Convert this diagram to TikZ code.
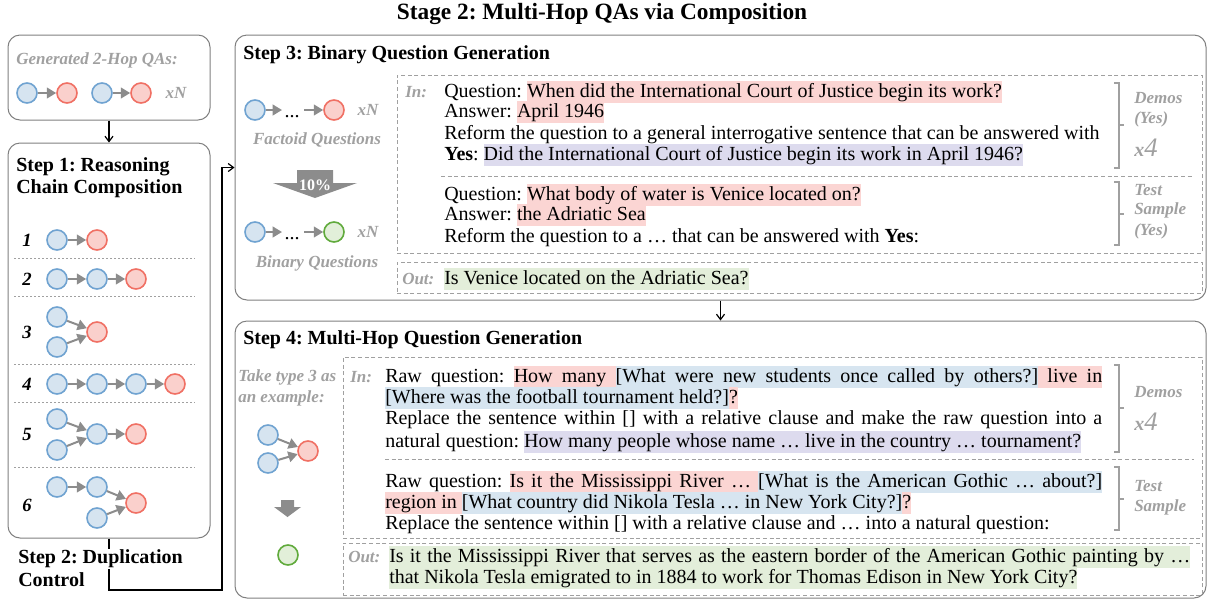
\documentclass[tikz,border=0pt]{standalone}
\usepackage{fontspec}
\setmainfont{Liberation Serif}
\usetikzlibrary{arrows.meta,fit}
\setlength{\fboxsep}{0pt}
\frenchspacing
\newlength\pxu \setlength\pxu{0.75pt}
\definecolor{hlred}{RGB}{251,213,211}
\definecolor{hlblu}{RGB}{215,229,240}
\definecolor{hlpur}{RGB}{221,219,238}
\definecolor{hlgrn}{RGB}{227,238,218}
\definecolor{cbf}{RGB}{214,228,240}
\definecolor{cbd}{RGB}{112,163,209}
\definecolor{crf}{RGB}{250,208,204}
\definecolor{crd}{RGB}{240,112,100}
\definecolor{cgf}{RGB}{226,239,217}
\definecolor{cgd}{RGB}{96,170,60}
\definecolor{labgray}{RGB}{160,160,160}
\definecolor{boxgray}{RGB}{128,128,128}
\definecolor{dashgray}{RGB}{160,160,160}
\definecolor{arrgray}{RGB}{140,140,140}
\newcommand\hstrut{\rule[-0.27em]{0pt}{1.07em}}
\newcommand\HLsp[1]{{\color{#1}\leaders\hrule height 0.8em depth 0.27em\hskip\fontdimen2\font plus\fontdimen3\font minus\fontdimen4\font}}
\makeatletter
\newcommand\HL[2]{\def\HL@c{#1}\HL@go#2 \@nil}
\def\HL@go#1 #2\@nil{\colorbox{\HL@c}{\hstrut#1}\ifx\relax#2\relax\else\HLsp{\HL@c}\HL@go#2\@nil\fi}
\makeatother
\newcommand\xfour{{\fontsize{15}{16}\selectfont\bfseries\itshape x}{\fontsize{20}{22}\selectfont\itshape 4}}
\begin{document}
\frenchspacing
\begin{tikzpicture}[x=0.75pt,y=-0.75pt,
  T/.style={anchor=west, inner sep=0pt, font=\fontsize{15}{18}\selectfont\frenchspacing},
  ST/.style={anchor=west, inner sep=0pt, font=\fontsize{15}{18}\selectfont\bfseries\frenchspacing},
  G/.style={inner sep=0pt, text=labgray, font=\fontsize{12.75}{15}\selectfont\bfseries\itshape},
  NUM/.style={inner sep=0pt, font=\fontsize{14}{16}\selectfont\bfseries\itshape},
  rbox/.style={draw=boxgray, line width=0.75pt, rounded corners=9pt, inner sep=0pt},
  dbox/.style={draw=dashgray, line width=0.75pt, dash pattern=on 3pt off 2pt, inner sep=0pt},
  dsep/.style={draw=dashgray, line width=0.75pt, dash pattern=on 3pt off 2pt},
  dots/.style={draw=dashgray, line width=0.75pt, dash pattern=on 1.5pt off 1.5pt},
  cb/.style={circle, draw=cbd, fill=cbf, line width=1.2pt, minimum size=15pt, inner sep=0pt},
  cr/.style={circle, draw=crd, fill=crf, line width=1.2pt, minimum size=15pt, inner sep=0pt},
  cg/.style={circle, draw=cgd, fill=cgf, line width=1.2pt, minimum size=15pt, inner sep=0pt},
  ga/.style={draw=arrgray, line width=1.5pt, -{Triangle[length=7pt,width=8pt]}},
  ba/.style={draw=black, line width=0.9pt, -{Straight Barb[length=4pt,width=6pt]}},
  brk/.style={draw=labgray, line width=0.9pt},
  X4/.style={inner sep=0pt, text=labgray, anchor=west}
]
\useasboundingbox (0,0) rectangle (1208,601);

% title
\node[font=\fontsize{17.5}{20}\selectfont\bfseries, inner sep=0pt] (title) at (602,14) {Stage 2: Multi-Hop QAs via Composition};

% ---------- top-left box ----------
\node[rbox, fit={(8,35) (210,120)}] (qa) {};
\node[G, anchor=west] (qal) at (16,60) {Generated 2-Hop QAs:};
\node[cb] (a1) at (27,93) {};
\node[cr] (a2) at (67,93) {};
\node[cb] (a3) at (102,93) {};
\node[cr] (a4) at (141,93) {};
\draw[ga] (a1) -- (a2);
\draw[ga] (a3) -- (a4);
\node[G] (axn) at (176,93) {xN};

% ---------- Step 1 ----------
\node[rbox, fit={(8,143) (210,538)}] (s1) {};
\draw[ba] (qa.south) -- (s1.north);
\node[ST] (s1t1) at (16,167) {Step 1: Reasoning};
\node[ST] (s1t2) at (16,189) {Chain Composition};

\node[NUM] (n1) at (27,240) {1};
\node[NUM] (n2) at (27,279) {2};
\node[NUM] (n3) at (27,332) {3};
\node[NUM] (n4) at (27,384) {4};
\node[NUM] (n5) at (27,434) {5};
\node[NUM] (n6) at (27,505) {6};

\draw[dots] (14,258) -- (195,258);
\draw[dots] (14,296) -- (195,296);
\draw[dots] (14,364) -- (195,364);
\draw[dots] (14,402) -- (195,402);
\draw[dots] (14,467) -- (195,467);

% row 1
\node[cb] (r1a) at (57,240) {};
\node[cr] (r1b) at (97,240) {};
\draw[ga] (r1a) -- (r1b);
% row 2
\node[cb] (r2a) at (57,279) {};
\node[cb] (r2b) at (97,279) {};
\node[cr] (r2c) at (136,279) {};
\draw[ga] (r2a) -- (r2b);
\draw[ga] (r2b) -- (r2c);
% row 3
\node[cb] (r3a) at (57,317) {};
\node[cb] (r3b) at (57,347) {};
\node[cr] (r3c) at (97,332) {};
\draw[ga] (r3a) -- (r3c);
\draw[ga] (r3b) -- (r3c);
% row 4
\node[cb] (r4a) at (57,384) {};
\node[cb] (r4b) at (97,384) {};
\node[cb] (r4c) at (136,384) {};
\node[cr] (r4d) at (175,384) {};
\draw[ga] (r4a) -- (r4b);
\draw[ga] (r4b) -- (r4c);
\draw[ga] (r4c) -- (r4d);
% row 5
\node[cb] (r5a) at (57,419) {};
\node[cb] (r5b) at (57,450) {};
\node[cb] (r5c) at (97,434) {};
\node[cr] (r5d) at (136,434) {};
\draw[ga] (r5a) -- (r5c);
\draw[ga] (r5b) -- (r5c);
\draw[ga] (r5c) -- (r5d);
% row 6
\node[cb] (r6a) at (57,487) {};
\node[cb] (r6b) at (97,487) {};
\node[cb] (r6c) at (97,518) {};
\node[cr] (r6d) at (136,503) {};
\draw[ga] (r6a) -- (r6b);
\draw[ga] (r6b) -- (r6d);
\draw[ga] (r6c) -- (r6d);

% ---------- Step 3 ----------
\node[rbox, fit={(235,35) (1206,300)}] (s3) {};
\node[ST] (s3t) at (243,55) {Step 3: Binary Question Generation};

\node[cb] (f1) at (255,110) {};
\coordinate (fa1) at (282,110);
\node[T, anchor=base] (fd) at (292,117) {...};
\coordinate (fa2) at (304,110);
\node[cr] (f2) at (334,110) {};
\draw[ga] (f1) -- (fa1);
\draw[ga] (fa2) -- (f2);
\node[G] (fxn) at (368,110) {xN};
\node[G] (fq) at (317,140) {Factoid Questions};

\fill[arrgray] (297,170) -- (333,170) -- (333,183) -- (357,183) -- (315,198) -- (273,183) -- (297,183) -- cycle;
\node[font=\fontsize{12}{14}\selectfont\bfseries, text=white, inner sep=0pt] (pct) at (315,185) {10\%};

\node[cb] (g1) at (255,232) {};
\coordinate (gb1) at (282,232);
\node[T, anchor=base] (gd) at (292,239) {...};
\coordinate (gb2) at (304,232);
\node[cg] (g2) at (334,232) {};
\draw[ga] (g1) -- (gb1);
\draw[ga] (gb2) -- (g2);
\node[G] (gxn) at (368,232) {xN};
\node[G] (bq) at (317,263) {Binary Questions};

\node[dbox, fit={(397,75) (1202,253)}] (i3) {};
\node[dbox, fit={(397,262) (1202,293)}] (o3) {};
\node[G, anchor=west] (i3l) at (405,92) {In:};
\node[G, anchor=west] (o3l) at (402,279) {Out:};

\node[T] (t31) at (444,92) {Question: \HL{hlred}{When did the International Court of Justice begin its work?}};
\node[T] (t32) at (444,112) {Answer: \HL{hlred}{April 1946}};
\node[T] (t33) at (444,134) {\hstrut Reform the question to a general interrogative sentence that can be answered with};
\node[T] (t34) at (444,155) {\textbf{Yes}: \HL{hlpur}{Did the International Court of Justice begin its work in April 1946?}};
\draw[dsep] (441,176) -- (1193,176);
\node[T] (t35) at (444,195) {Question: \HL{hlred}{What body of water is Venice located on?}};
\node[T] (t36) at (444,215) {Answer: \HL{hlred}{the Adriatic Sea}};
\node[T] (t37) at (444,237) {\hstrut Reform the question to a … that can be answered with \textbf{Yes}:};
\node[T] (t3o) at (444,279) {\HL{hlgrn}{Is Venice located on the Adriatic Sea?}};

\draw[brk] (1114,83) -- (1119,83) -- (1119,168) -- (1114,168);
\draw[brk] (1119,125) -- (1124,125);
\draw[brk] (1114,182) -- (1119,182) -- (1119,245) -- (1114,245);
\draw[brk] (1119,214) -- (1124,214);
\node[G, anchor=west] (d3a) at (1134,98) {Demos};
\node[G, anchor=west] (d3b) at (1134,119) {(Yes)};
\node[X4] (d3c) at (1134,148) {\xfour};
\node[G, anchor=west] (e3a) at (1134,190) {Test};
\node[G, anchor=west] (e3b) at (1134,210) {Sample};
\node[G, anchor=west] (e3c) at (1134,231) {(Yes)};

% ---------- Step 4 ----------
\node[rbox, fit={(235,321) (1206,598)}] (s4) {};
\draw[ba] (s3.south) -- (s4.north);
\node[ST] (s4t) at (243,340) {Step 4: Multi-Hop Question Generation};
\node[G, anchor=west] (tk1) at (238,377) {Take type 3 as};
\node[G, anchor=west] (tk2) at (238,398) {an example:};
\node[cb] (h1) at (268,435) {};
\node[cb] (h2) at (268,463) {};
\node[cr] (h3) at (308,451) {};
\draw[ga] (h1) -- (h3);
\draw[ga] (h2) -- (h3);
\fill[arrgray] (281,500) -- (294,500) -- (294,507) -- (301,507) -- (287.5,517) -- (274,507) -- (281,507) -- cycle;
\node[cg] (h4) at (288,555) {};

\node[dbox, fit={(343,357) (1202,538)}] (i4) {};
\node[dbox, fit={(343,543) (1202,595)}] (o4) {};
\node[G, anchor=west] (i4l) at (350,377) {In:};
\node[G, anchor=west] (o4l) at (348,557) {Out:};

\node[T] (t41) at (385,377) {\makebox[717\pxu][s]{Raw question: \HL{hlred}{How many}\HLsp{hlred}\HL{hlblu}{[What were new students once called by others?]}\HLsp{hlred}\HL{hlred}{live in}}};
\node[T] (t42) at (385,398) {\HL{hlblu}{[Where was the football tournament held?]}\HL{hlred}{?}};
\node[T] (t43) at (385,419) {\makebox[717\pxu][s]{\hstrut Replace the sentence within [] with a relative clause and make the raw question into a}};
\node[T] (t44) at (385,442) {natural question: \HL{hlpur}{How many people whose name … live in the country … tournament?}};
\draw[dsep] (385,459) -- (1194,459);
\node[T] (t45) at (385,482) {\makebox[717\pxu][s]{Raw question: \HL{hlred}{Is it the Mississippi River …}\HLsp{hlred}\HL{hlblu}{[What is the American Gothic … about?]}}};
\node[T] (t46) at (385,503) {\HL{hlred}{region in}\HLsp{hlred}\HL{hlblu}{[What country did Nikola Tesla … in New York City?]}\HL{hlred}{?}};
\node[T] (t47) at (385,524) {\hstrut Replace the sentence within [] with a relative clause and … into a natural question:};
\node[T] (t4o1) at (389,557) {\makebox[801\pxu][s]{\HL{hlgrn}{Is it the Mississippi River that serves as the eastern border of the American Gothic painting by …}}};
\node[T] (t4o2) at (389,578) {\HL{hlgrn}{that Nikola Tesla emigrated to in 1884 to work for Thomas Edison in New York City?}};

\draw[brk] (1114,365) -- (1119,365) -- (1119,452) -- (1114,452);
\draw[brk] (1119,408) -- (1124,408);
\draw[brk] (1114,467) -- (1119,467) -- (1119,530) -- (1114,530);
\draw[brk] (1119,499) -- (1124,499);
\node[G, anchor=west] (d4a) at (1134,392) {Demos};
\node[X4] (d4c) at (1134,422) {\xfour};
\node[G, anchor=west] (e4a) at (1134,486) {Test};
\node[G, anchor=west] (e4b) at (1134,507) {Sample};

% ---------- Step 2 connector ----------
\coordinate (dc) at (222,590);
\draw[ba] (s1.south) -- (s1.south |- dc) -- (dc) -- (dc |- s3.west) -- (s3.west);
\node[ST, fill=white, inner ysep=1pt] (s2t1) at (18,559) {Step 2: Duplication};
\node[ST] (s2t2) at (18,580) {Control};
\end{tikzpicture}
\end{document}
